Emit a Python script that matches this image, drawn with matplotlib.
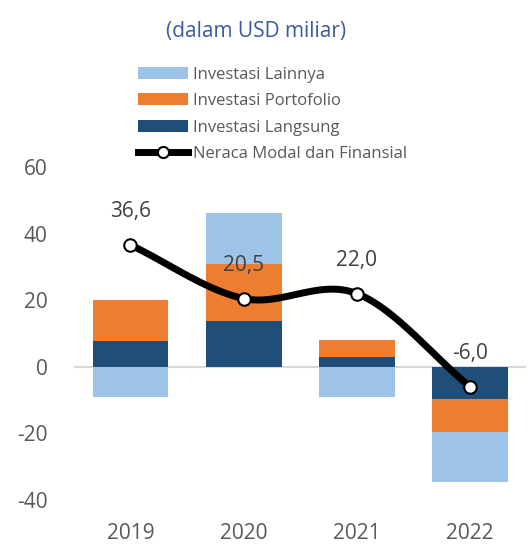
import numpy as np
import matplotlib
matplotlib.use("Agg")
from matplotlib import pyplot as plt
from matplotlib.patches import Patch
from matplotlib.lines import Line2D

years = ["2019", "2020", "2021", "2022"]
inv_langsung = [7.6, 13.7, 2.9, -9.8]
inv_portofolio = [12.5, 17.3, 5.2, -9.9]
inv_lainnya = [-9.1, 15.2, -9.2, -15.0]
neraca = [36.6, 20.5, 22.0, -6.0]
neraca_labels = ["36,6", "20,5", "22,0", "-6,0"]

c_lainnya = "#9DC3E6"
c_portofolio = "#ED7D31"
c_langsung = "#1F4E79"
grey = "#595959"

plt.rcParams["font.family"] = ["Open Sans", "DejaVu Sans"]
plt.rcParams["axes.unicode_minus"] = False

fig = plt.figure(figsize=(5.28, 5.48), dpi=100)
ax = fig.add_axes([0.140, 0.058, 0.857, 0.649])

x = np.arange(len(years))
width = 0.67

# stack positives upward and negatives downward, like Excel
pos_base = np.zeros(len(years))
neg_base = np.zeros(len(years))
for values, color in [(inv_langsung, c_langsung), (inv_portofolio, c_portofolio), (inv_lainnya, c_lainnya)]:
    values = np.array(values)
    bottoms = np.where(values >= 0, pos_base, neg_base)
    ax.bar(x, values, width, bottom=bottoms, color=color, edgecolor="none", zorder=2)
    pos_base = pos_base + np.where(values >= 0, values, 0)
    neg_base = neg_base + np.where(values < 0, values, 0)

ax.axhline(0, color="#D9D9D9", linewidth=1.5, zorder=1)

# smoothed line (cardinal spline through the points)
y = np.array(neraca)
tang = np.gradient(y)
tang[0] = y[1] - y[0]
tang[-1] = y[-1] - y[-2]
xs, ys = [], []
for i in range(len(y) - 1):
    t = np.linspace(0, 1, 40)
    h00 = 2 * t**3 - 3 * t**2 + 1
    h10 = t**3 - 2 * t**2 + t
    h01 = -2 * t**3 + 3 * t**2
    h11 = t**3 - t**2
    xs.extend(x[i] + t)
    ys.extend(h00 * y[i] + h10 * tang[i] + h01 * y[i + 1] + h11 * tang[i + 1])
ax.plot(xs, ys, color="black", linewidth=5, solid_capstyle="round", zorder=3)
ax.plot(x, y, linestyle="none", marker="o", markersize=9, markerfacecolor="white",
        markeredgecolor="black", markeredgewidth=1.5, zorder=4)

for xi, yi, lab in zip(x, y, neraca_labels):
    ax.annotate(lab, (xi, yi), xytext=(0, 24), textcoords="offset points",
                ha="center", va="center", fontsize=15, color="#404040", zorder=5)

ax.set_xlim(-0.5, 3.5)
ax.set_ylim(-45, 62)
ax.set_yticks([-40, -20, 0, 20, 40, 60])
ax.set_xticks(x)
ax.set_xticklabels(years)
ax.tick_params(axis="both", length=0, labelsize=15, colors=grey)
ax.tick_params(axis="y", pad=19)
ax.tick_params(axis="x", pad=5)
for spine in ax.spines.values():
    spine.set_visible(False)

fig.text(0.485, 0.943, "(dalam USD miliar)", ha="center", va="center",
         fontsize=15, color="#3A5BA0")

handles = [
    Patch(facecolor=c_lainnya, label="Investasi Lainnya"),
    Patch(facecolor=c_portofolio, label="Investasi Portofolio"),
    Patch(facecolor=c_langsung, label="Investasi Langsung"),
    Line2D([0], [0], color="black", linewidth=5, marker="o", markersize=8,
           markerfacecolor="white", markeredgecolor="black", markeredgewidth=1.5,
           label="Neraca Modal dan Finansial"),
]
leg = fig.legend(handles=handles, loc="upper left", bbox_to_anchor=(0.262, 0.878),
                 frameon=False, fontsize=12, handlelength=3.0, handleheight=0.75,
                 handletextpad=0.3, labelspacing=0.62, borderpad=0, borderaxespad=0)
for t in leg.get_texts():
    t.set_color(grey)

fig.savefig("out.png", dpi=100)
